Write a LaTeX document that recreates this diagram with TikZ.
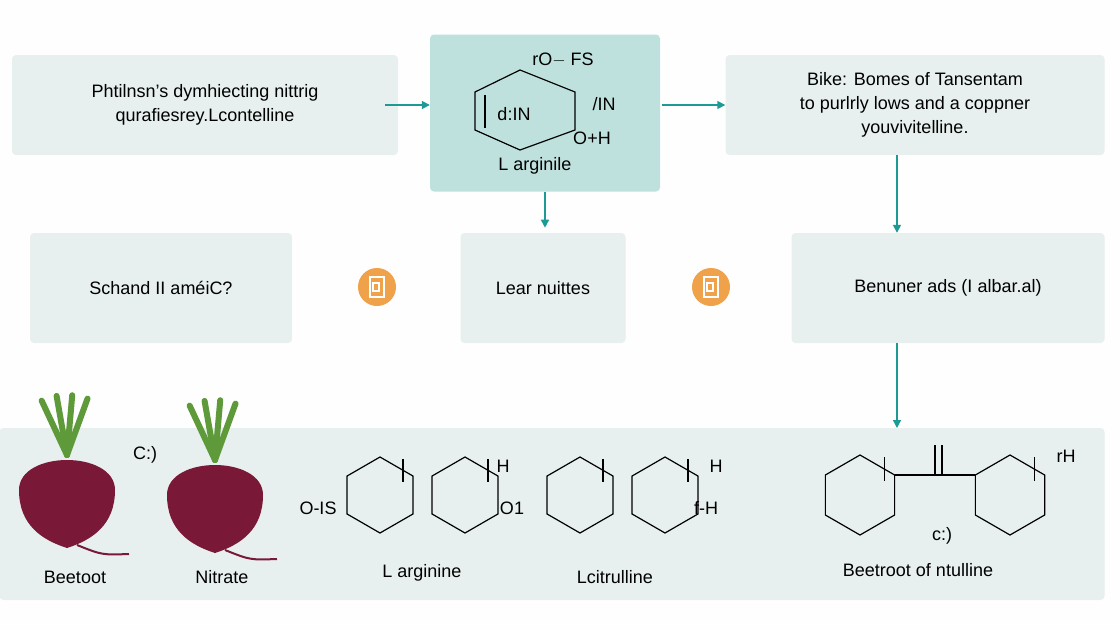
\documentclass[tikz,border=0pt]{standalone}
\usepackage{fontspec}
\setmainfont{Liberation Sans}
\usetikzlibrary{arrows.meta, positioning}
\definecolor{panel}{HTML}{E7F0EE}
\definecolor{hilite}{HTML}{BFE1DD}
\definecolor{teal}{HTML}{1E9A95}
\definecolor{beet}{HTML}{7A1838}
\definecolor{leaf}{HTML}{5E9A3A}
\definecolor{orng}{HTML}{F0A24A}
\tikzset{
  card/.style={
    rectangle,
    rounded corners=4pt,
    fill=panel,
    align=center,
    font=\fontsize{18}{24}\selectfont
    },
  arrow/.style={-{Triangle[length=8pt,width=8pt]},draw=teal,line width=1.5pt},
  ring/.style={line width=1.2pt},
  label/.style={font=\fontsize{18}{22}\selectfont},
  icon/.style={circle,fill=orng,minimum size=38pt}
}
\newcommand{\hexring}[3]{% centre x, centre y, radius
  \draw[ring] (#1,#2) ++(90:#3) -- ++(-30:#3) -- ++(-90:#3) -- ++(-150:#3) -- ++(150:#3) -- ++(90:#3) -- cycle;
  \draw[ring] (#1,#2) ++(-30:0.7*#3) -- ++(-90:0.6*#3);}
\begin{document}
\begin{tikzpicture}[x=1pt,y=-1pt]
\useasboundingbox (0,0) rectangle (1120,630);
\fill[white!97!panel] (0,0) rectangle (1120,630);
% top row
\node (phil) [card,minimum width=386pt,minimum height=100pt] at (205,105) {Phtilnsn's dymhiecting nittrig\\qurafiesrey.Lcontelline};
\node (arg) [card,fill=hilite,minimum width=230pt,minimum height=157pt] at (545,113) {};
\node (bike) [card,minimum width=379pt,minimum height=100pt] at (915,105) {Bike: Bomes of Tansentam\\to purlrly lows and a coppner\\youvivitelline.};
\node (arglbl) [label] at (535,166) {L arginile};
\draw[ring] (475,92) -- (520,70) -- (575,92) -- (575,130) -- (520,150) -- (475,130) -- cycle;
\draw[ring] (485,95) -- (485,128);
\node[label] at (563,60) {rO$-$ FS};
\node[label] at (604,104) {/IN};
\node[label] at (514,114) {d:IN};
\node[label] at (592,138) {O+H};
% middle row
\node (schand) [card,minimum width=262pt,minimum height=110pt] at (161,288) {Schand II am\'eiC?};
\node (lear) [card,minimum width=165pt,minimum height=110pt] at (543,288) {Lear nuittes};
\node (benu) [card,minimum width=313pt,minimum height=110pt] at (948,288) {Benuner ads (I albar.al)};
\node (iconA) [icon] at (377,287) {};
\node (iconB) [icon] at (711,287) {};
\foreach \ic in {iconA,iconB}{
  \draw[white,line width=1.3pt] ([xshift=-7pt,yshift=-10pt]\ic.center) rectangle ([xshift=7pt,yshift=10pt]\ic.center);
  \draw[white,line width=1.3pt] ([xshift=-4pt,yshift=4pt]\ic.center) rectangle ([xshift=2pt,yshift=-4pt]\ic.center);
}
% bottom panel
\node (base) [card,minimum width=1105pt,minimum height=172pt] at (552,514) {};
\coordinate (baseN) at (897,428);
\coordinate (philE) at (385,105);
% connectors
\draw[arrow] (philE) -- (arg.west |- philE);
\draw[arrow] (arg.east |- philE) ++(2,0) -- (bike.west |- philE);
\draw[arrow] (arg.south) -- ++(0,36);
\draw[arrow] (bike.south -| baseN) -- (benu.north -| baseN);
\draw[arrow] (benu.south -| baseN) -- (baseN);
% beets
\foreach \bx/\by in {67/490,215/495}{
  \foreach \a in {-25,-10,5,20}
    \draw[leaf,line width=6pt,line cap=round] (\bx,\by-35) -- ++(270+\a:60);
  \fill[beet] (\bx-48,\by) .. controls (\bx-48,\by-40) and (\bx+48,\by-40) .. (\bx+48,\by)
    .. controls (\bx+48,\by+35) and (\bx+25,\by+50) .. (\bx,\by+58)
    .. controls (\bx-25,\by+50) and (\bx-48,\by+35) .. (\bx-48,\by);
  \draw[beet,line width=2pt] (\bx+10,\by+55) .. controls (\bx+35,\by+65) .. (\bx+62,\by+64);
}
\node (beetoot) [label] at (75,577) {Beetoot};
\node (nitrate) [label] at (222,577) {Nitrate};
\node[label] at (145,455) {C:)};
% structures
\hexring{380}{495}{38}
\hexring{465}{495}{38}
\hexring{580}{495}{38}
\hexring{665}{495}{38}
\hexring{860}{495}{40}
\hexring{1010}{495}{40}
\draw[ring] (895,475) -- (975,475);
\draw[ring] (935,445) -- (935,475);\draw[ring] (942,445) -- (942,475);
\node[label] at (318,508) {O-IS};
\node[label] at (503,466) {H};
\node[label] at (512,508) {O1};
\node[label] at (716,466) {H};
\node[label] at (706,508) {f-H};
\node[label] at (1066,456) {rH};
\node[label] at (942,536) {c:)};
\node (larg) [label] at (422,573) {L arginine};
\node (lcit) [label] at (615,577) {Lcitrulline};
\node (bnt) [label] at (918,570) {Beetroot of ntulline};
\end{tikzpicture}
\end{document}
